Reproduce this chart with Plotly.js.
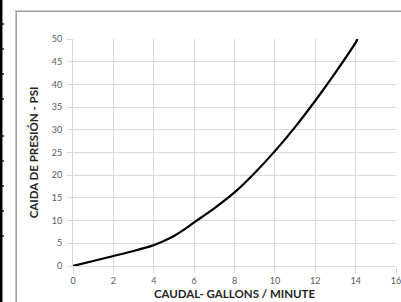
<!DOCTYPE html>
<html>
<head>
<meta charset="utf-8">
<script src="https://cdn.plot.ly/plotly-3.0.1.min.js"></script>
<style>html,body{margin:0;padding:0;background:#fff;}#chart{width:401px;height:302px;}</style>
</head>
<body>
<div id="chart"></div>
<script>
var caudal = [0, 1, 2, 3, 4, 4.5, 5, 5.5, 6, 7, 8, 9, 10, 11, 12, 13, 14, 14.1];
var presion = [0, 1.1, 2.2, 3.3, 4.6, 5.5, 6.6, 8.0, 9.6, 12.7, 16.2, 20.5, 25.3, 30.6, 36.4, 42.6, 49.2, 50];
var xTicks = [0, 2, 4, 6, 8, 10, 12, 14, 16];
var yTicks = [0, 5, 10, 15, 20, 25, 30, 35, 40, 45, 50];
var xTitle = 'CAUDAL- GALLONS / MINUTE';
var yTitle = 'CAIDA DE PRESIÓN - PSI';
var sideMarks = [24, 49, 74, 99, 136, 161, 186, 211, 236];

var W = 401, H = 302, L = 73, R = 5, T = 39, B = 36;
var pw = W - L - R, ph = H - T - B;
function px(x){ return (x - L) / pw; }
function py(y){ return (H - B - y) / ph; }

var shapes = [
  {type:'line', xref:'paper', yref:'paper', x0:px(1.2), x1:px(1.2), y0:py(302), y1:py(0),
   line:{color:'#000', width:2.5}}
];
sideMarks.forEach(function(v){
  shapes.push({type:'line', xref:'paper', yref:'paper', x0:px(0), x1:px(4), y0:py(v), y1:py(v),
    line:{color:'#000', width:1.3}});
});
shapes.push({type:'rect', xref:'paper', yref:'paper', x0:px(15.4), x1:px(17), y0:py(302), y1:py(10.4),
   line:{width:0}, fillcolor:'#a0a0a0', layer:'above'});
shapes.push({type:'rect', xref:'paper', yref:'paper', x0:px(15.4), x1:px(401), y0:py(12), y1:py(10.4),
   line:{width:0}, fillcolor:'#a0a0a0', layer:'above'});

var trace = {
  x: caudal, y: presion, type:'scatter', mode:'lines',
  line:{color:'#000', width:2.2, shape:'spline', smoothing:0.6},
  hoverinfo:'skip'
};

var layout = {
  width: W, height: H,
  margin:{l:L, r:R, t:T, b:B},
  paper_bgcolor:'#fff', plot_bgcolor:'#fff',
  showlegend:false,
  font:{family:'Lato, "Open Sans", sans-serif', color:'#595959'},
  xaxis:{
    range:[0,16], tickvals:xTicks, ticktext:xTicks.map(String),
    showgrid:true, gridcolor:'#d9d9d9', gridwidth:1,
    showline:true, linecolor:'#d9d9d9', zeroline:false,
    ticks:'outside', ticklen:6, tickcolor:'#d9d9d9',
    ticklabeloverflow:'allow',
    tickfont:{size:9, color:'#595959'},
    title:{text:xTitle, standoff:5, font:{size:11.5, color:'#262626', family:'Lato, "Open Sans", sans-serif', weight:'bold'}},
    automargin:false, fixedrange:true
  },
  yaxis:{
    range:[0,50], tickvals:yTicks, ticktext:yTicks.map(String),
    showgrid:true, gridcolor:'#d9d9d9', gridwidth:1,
    showline:true, linecolor:'#d9d9d9', zeroline:false,
    ticks:'outside', ticklen:5, tickcolor:'#d9d9d9',
    ticklabelstandoff:3,
    tickfont:{size:9, color:'#595959'},
    title:{text:yTitle, standoff:10, font:{size:11.5, color:'#262626', family:'Lato, "Open Sans", sans-serif', weight:'bold'}},
    automargin:false, fixedrange:true
  },
  shapes: shapes
};

Plotly.newPlot('chart', [trace], layout, {displayModeBar:false, staticPlot:true});
</script>
</body>
</html>
